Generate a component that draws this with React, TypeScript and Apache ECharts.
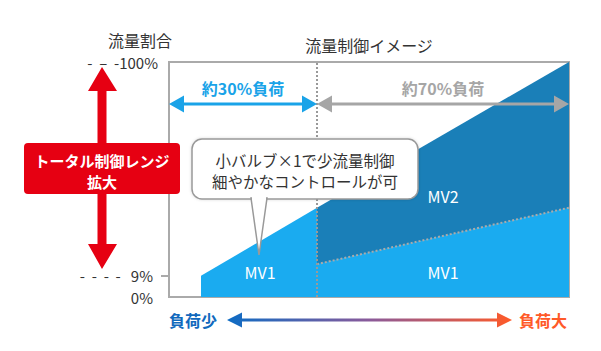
import React, { useEffect, useRef } from "react";
import * as echarts from "echarts";

const FONT = "'Noto Sans CJK JP', 'Noto Sans', sans-serif";

// x: relative load position (0..100), y: flow ratio (%)
const totalLeft: [number, number][] = [[8, 9], [37, 38]];
const totalRight: [number, number][] = [[37, 38], [100, 100]];
const mv1Right: [number, number][] = [[37, 14], [100, 38]];
const splitX = 37;
const yLabelValues = [0, 9];
const yTopValue = [100];
const tickValues = [9];

const LIGHT = "#1aabf0";
const DARK = "#1a7fb8";

export default function App() {
  const ref = useRef<HTMLDivElement>(null);
  useEffect(() => {
    if (!ref.current) return;
    const chart = echarts.init(ref.current, null, { renderer: "svg" });
    const Z = 100;
    const txt = (x: number, y: number, text: string, size: number, color: string, bold = false, align = "center") => ({
      type: "text", z: Z, x, y,
      style: { text, fill: color, fontSize: size, fontFamily: FONT, fontWeight: bold ? "bold" : "normal", textAlign: align, textVerticalAlign: "middle" },
    });
    const dblArrow = (x1: number, x2: number, y: number, hl: number, hh: number, sw: number, fill: any) => ({
      type: "polygon", z: Z,
      shape: { points: [[x1, y], [x1 + hl, y - hh], [x1 + hl, y - sw], [x2 - hl, y - sw], [x2 - hl, y - hh], [x2, y], [x2 - hl, y + hh], [x2 - hl, y + sw], [x1 + hl, y + sw], [x1 + hl, y + hh]] },
      style: { fill },
    });
    chart.setOption({
      animation: false,
      grid: { left: 169, top: 62, width: 400, height: 235, show: true, borderColor: "#aaa", borderWidth: 2, backgroundColor: "#fff" },
      xAxis: { type: "value", min: 0, max: 100, show: false },
      yAxis: [
        {
          type: "value", min: 0, max: 100, position: "left",
          splitLine: { show: false }, axisLine: { show: false },
          axisTick: { show: true, customValues: tickValues, length: 8, lineStyle: { color: "#aaa", width: 2 } },
          axisLabel: {
            customValues: yLabelValues, margin: 16, fontSize: 15, color: "#333", fontFamily: FONT,
            formatter: (v: number) => (v === 9 ? "-  -  -  -   9%" : v + "%"),
          },
        },
        {
          type: "value", min: 0, max: 100, position: "left",
          splitLine: { show: false }, axisLine: { show: false }, axisTick: { show: false },
          axisLabel: { customValues: yTopValue, margin: 11, fontSize: 15, color: "#333", fontFamily: FONT, formatter: "-  –  -{value}%" },
        },
      ],
      series: [
        { type: "line", data: totalLeft, showSymbol: false, lineStyle: { width: 0 }, areaStyle: { color: LIGHT, opacity: 1 } },
        { type: "line", data: totalRight, showSymbol: false, lineStyle: { width: 0 }, areaStyle: { color: DARK, opacity: 1 } },
        {
          type: "line", data: mv1Right, showSymbol: false,
          lineStyle: { width: 2, type: "dotted", color: "#aaa" },
          areaStyle: { color: LIGHT, opacity: 1 },
          markLine: { symbol: "none", silent: true, label: { show: false }, lineStyle: { type: "dotted", color: "#999", width: 2 }, data: [{ xAxis: splitX }] },
        },
      ],
      graphic: [
        txt(140, 40, "流量割合", 16, "#333"),
        txt(369, 45, "流量制御イメージ", 16, "#333"),
        // red range arrow
        {
          type: "polygon", z: Z,
          shape: { points: [[102, 67], [117, 91], [106.5, 91], [106.5, 244], [117, 244], [102, 269], [88, 244], [97.5, 244], [97.5, 91], [88, 91]] },
          style: { fill: "#e60012" },
        },
        { type: "rect", z: Z, shape: { x: 24, y: 143, width: 156, height: 51, r: 4 }, style: { fill: "#e60012" } },
        txt(102, 160, "トータル制御レンジ", 15, "#fff", true),
        txt(102, 181, "拡大", 15, "#fff", true),
        // top arrows
        dblArrow(169, 317, 104, 15, 8.5, 1.6, "#1aa3e8"),
        txt(243, 88, "約30%負荷", 16, "#1aa3e8", true),
        dblArrow(317, 569, 104, 15, 8.5, 1.6, "#a6a6a6"),
        txt(443, 88, "約70%負荷", 16, "#a6a6a6", true),
        // callout
        { type: "rect", z: Z, shape: { x: 192, y: 139, width: 226, height: 60, r: 10 }, style: { fill: "#fff", stroke: "#999", lineWidth: 1.5, shadowBlur: 3, shadowColor: "rgba(0,0,0,0.15)" } },
        { type: "polygon", z: Z + 1, shape: { points: [[251, 198], [259, 255], [267, 198]] }, style: { fill: "#fff", stroke: "#999", lineWidth: 1.5 } },
        { type: "rect", z: Z + 2, shape: { x: 252, y: 196, width: 14, height: 3.5 }, style: { fill: "#fff" } },
        { ...txt(305, 160, "小バルブ×1で少流量制御", 15.5, "#333"), z: Z + 3 },
        { ...txt(305, 181, "細やかなコントロールが可", 15.5, "#333"), z: Z + 3 },
        // series labels
        txt(260, 272, "MV1", 16, "#fff"),
        txt(443, 272, "MV1", 16, "#fff"),
        txt(443, 196, "MV2", 16, "#fff"),
        // bottom arrow
        dblArrow(227, 512, 320, 15, 7.5, 1.4, new echarts.graphic.LinearGradient(0, 0, 1, 0, [
          { offset: 0, color: "#0d6cc4" },
          { offset: 0.5, color: "#8a5a9a" },
          { offset: 1, color: "#ff5a28" },
        ])),
        txt(193, 320, "負荷少", 16, "#1169bd", true),
        txt(543, 320, "負荷大", 16, "#ff5a28", true),
      ],
    });
    return () => chart.dispose();
  }, []);
  return <div ref={ref} style={{ width: 601, height: 351, position: "absolute", left: 0, top: 0 }} />;
}
